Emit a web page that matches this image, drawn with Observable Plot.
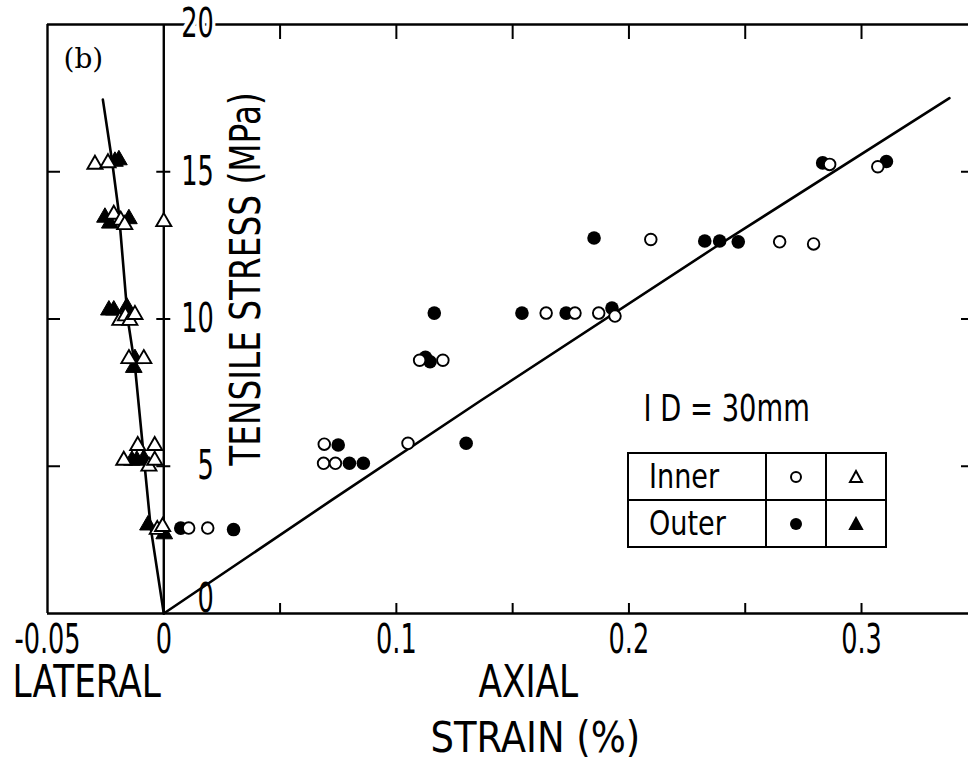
<!DOCTYPE html>
<html><head><meta charset="utf-8">
<script src="https://cdn.jsdelivr.net/npm/d3@7"></script>
<script src="https://cdn.jsdelivr.net/npm/@observablehq/plot@0.6"></script>
<style>
body{margin:0;background:#fff;}
#wrap{position:relative;width:968px;height:760px;}
#legend{position:absolute;left:627px;top:452px;border-collapse:collapse;font-family:"DejaVu Sans",sans-serif;font-size:33px;}
#legend td{border:2px solid #000;padding:0;height:45px;text-align:center;}
#legend td.lab{width:138px;text-align:left;padding-left:20px;box-sizing:border-box;}
#legend td.sym{width:58px;}
#legend span{display:inline-block;transform:scaleX(0.82);transform-origin:left center;}
</style></head><body><div id="wrap"></div>
<script>
// ---- data (strain %, stress MPa) ----
const axialInnerStrain = [0.0107,0.0189,0.069,0.0687,0.0738,0.105,0.110,0.120,0.1644,0.1768,0.187,0.194,0.2094,0.2648,0.2794,0.2863,0.307];
const axialInnerStress = [2.9,2.9,5.75,5.1,5.1,5.78,8.6,8.6,10.2,10.2,10.2,10.1,12.7,12.62,12.55,15.25,15.17];
const axialOuterStrain = [0.0073,0.030,0.075,0.0798,0.0858,0.130,0.1125,0.1145,0.1163,0.154,0.173,0.1927,0.185,0.2326,0.239,0.247,0.2833,0.3107];
const axialOuterStress = [2.9,2.85,5.72,5.1,5.1,5.78,8.7,8.55,10.2,10.2,10.2,10.37,12.75,12.65,12.65,12.62,15.3,15.35];
const lateralInnerStrain = [-0.0296,-0.024,-0.0215,-0.0185,-0.0168,0,-0.0189,-0.0165,-0.0146,-0.0124,-0.015,-0.0086,-0.0112,-0.0039,-0.0172,-0.0064,-0.0039,-0.0028,-0.0005];
const lateralInnerStress = [15.25,15.3,13.55,13.35,13.2,13.3,9.95,10.1,9.95,10.15,8.65,8.65,5.7,5.7,5.2,5.0,5.2,2.85,2.95];
const lateralOuterStrain = [-0.021,-0.0193,-0.0253,-0.0232,-0.015,-0.0236,-0.0215,-0.0159,-0.0124,-0.0129,-0.0137,-0.0116,-0.0086,-0.0068,0.0002];
const lateralOuterStress = [15.35,15.4,13.45,13.25,13.4,10.3,10.3,10.4,8.65,8.35,5.2,5.2,5.25,3.0,2.7];
const axialFitStrain = [0,0.072,0.1365,0.2365,0.3378];
const axialFitStress = [0,3.84,7.24,12.41,17.5];
const lateralFitStrain = [0,-0.0056,-0.0082,-0.0124,-0.0155,-0.0193,-0.0223,-0.0262];
const lateralFitStress = [0,2.9,5.0,8.4,10.0,13.6,15.4,17.45];
const yTickValues = [5,10,15,20];
const xTickValues = [-0.05,0,0.1,0.2,0.3];
const xTickLabels = ["-0.05","0","0.1","0.2","0.3"];
const xMinorTicks = [0.05,0.1,0.15,0.2,0.25,0.3];
const frameTicksY = [5,10,15];

const zip = (xs, ys) => xs.map((x,i)=>({x, y: ys[i]}));
const FONT = '"DejaVu Sans",sans-serif';
const SW = 2.4;
const NUM = 40, WORD = 44;

const chart = Plot.plot({
  width: 968, height: 760,
  marginLeft: 47, marginRight: 0, marginTop: 24, marginBottom: 147,
  x: {domain: [-0.05, 0.346], axis: null},
  y: {domain: [0, 20], axis: null},
  style: {fontFamily: FONT, background: "white", overflow: "visible"},
  marks: [
    // frame
    Plot.ruleY([0], {stroke: "black", strokeWidth: SW}),
    Plot.ruleY([20], {stroke: "black", strokeWidth: SW}),
    Plot.ruleX([-0.05], {y1: 0, y2: 20, stroke: "black", strokeWidth: SW}),
    Plot.ruleX([0], {y1: 0, y2: 20, stroke: "black", strokeWidth: SW}),
    // bottom & top ticks
    Plot.ruleX(xMinorTicks, {x: d=>d, y1: 0, y2: 0, insetTop: -10, stroke: "black", strokeWidth: 2}),
    Plot.ruleX(xMinorTicks, {x: d=>d, y1: 20, y2: 20, insetBottom: -15, stroke: "black", strokeWidth: 2}),
    // left frame, central axis and right ticks
    Plot.ruleY(frameTicksY, {y: d=>d, x1: -0.05, x2: -0.05, insetRight: -13, stroke: "black", strokeWidth: 2}),
    Plot.ruleY(frameTicksY, {y: d=>d, x1: 0, x2: 0, insetLeft: -7, insetRight: -7, stroke: "black", strokeWidth: 2}),
    Plot.ruleY(frameTicksY, {y: d=>d, x1: 0.346, x2: 0.346, insetLeft: -7, stroke: "black", strokeWidth: 2}),
    // fit lines
    Plot.line(zip(axialFitStrain, axialFitStress), {x: "x", y: "y", stroke: "black", strokeWidth: 2.6}),
    Plot.line(zip(lateralFitStrain, lateralFitStress), {x: "x", y: "y", stroke: "black", strokeWidth: 2.6}),
    // data
    Plot.dot(zip(axialOuterStrain, axialOuterStress), {x: "x", y: "y", r: 6.8, fill: "black", stroke: "none"}),
    Plot.dot(zip(axialInnerStrain, axialInnerStress), {x: "x", y: "y", r: 5.8, fill: "white", stroke: "black", strokeWidth: 1.9}),
    Plot.dot(zip(lateralOuterStrain, lateralOuterStress), {x: "x", y: "y", symbol: "triangle", r: 6.2, fill: "black", stroke: "black", strokeWidth: 1}),
    Plot.dot(zip(lateralInnerStrain, lateralInnerStress), {x: "x", y: "y", symbol: "triangle", r: 5.6, fill: "white", stroke: "black", strokeWidth: 1.9}),
    // y tick labels
    Plot.text(yTickValues, {x: 0, y: d=>d, text: d=>String(d), dx: 50, textAnchor: "end", lineAnchor: "middle", fontSize: NUM, fill: "black", stroke: "white", strokeWidth: 10}),
    Plot.text([0], {x: 0, y: d=>d, text: d=>String(d), dx: 50, dy: -14, textAnchor: "end", lineAnchor: "middle", fontSize: NUM, fill: "black"}),
    // x tick labels
    Plot.text(xTickValues, {x: d=>d, y: 0, text: (d,i)=>xTickLabels[i], dy: 27, lineAnchor: "middle", fontSize: NUM, fill: "black"}),
    // axis titles & annotations
    Plot.text(["TENSILE STRESS (MPa)"], {frameAnchor: "left", dx: 199, dy: -40, rotate: -90, textAnchor: "middle", lineAnchor: "middle", fontSize: 42, fill: "black"}),
    Plot.text(["LATERAL"], {frameAnchor: "bottom-left", dx: -35, dy: 69, textAnchor: "start", lineAnchor: "middle", fontSize: WORD, fill: "black"}),
    Plot.text(["AXIAL"], {frameAnchor: "bottom-left", dx: 431, dy: 69, textAnchor: "start", lineAnchor: "middle", fontSize: WORD, fill: "black"}),
    Plot.text(["STRAIN (%)"], {frameAnchor: "bottom-left", dx: 383, dy: 125, textAnchor: "start", lineAnchor: "middle", fontSize: 42, fill: "black"}),
    Plot.text(["(b)"], {frameAnchor: "top-left", dx: 16, dy: 35, textAnchor: "start", lineAnchor: "middle", fontSize: 28, fontFamily: '"DejaVu Serif","Liberation Serif",serif', fill: "black"}),
    Plot.text(["I D = 30mm"], {frameAnchor: "top-left", dx: 596, dy: 384, textAnchor: "start", lineAnchor: "middle", fontSize: 38, fill: "black"})
  ]
});
document.getElementById("wrap").appendChild(chart);

// condense the lettering to imitate the narrow plotter font
const squeeze = {"STRAIN (%)": 0.88, "I D = 30mm": 0.72};
chart.querySelectorAll("text").forEach(t => {
  const s = t.textContent;
  if (s === "(b)") return;
  const f = squeeze[s] ?? (/^[-\d.]+$/.test(s) ? 0.64 : 0.78);
  const w = t.getComputedTextLength();
  t.setAttribute("textLength", (w * f).toFixed(1));
  t.setAttribute("lengthAdjust", "spacingAndGlyphs");
});

const legend = document.createElement("table");
legend.id = "legend";
const sym = (shape, filled) => {
  const f = filled ? "#000" : "#fff";
  const inner = shape === "circle"
    ? `<circle cx="8" cy="8" r="${filled?6:5}" fill="${f}" stroke="#000" stroke-width="${filled?0:2}"/>`
    : `<path d="M8,2 L14,13 L2,13 Z" fill="${f}" stroke="#000" stroke-width="2" stroke-linejoin="miter"/>`;
  return `<svg width="16" height="16" style="display:block;margin:auto">${inner}</svg>`;
};
legend.innerHTML = `<tr><td class="lab"><span>Inner</span></td><td class="sym">${sym("circle",false)}</td><td class="sym">${sym("tri",false)}</td></tr>
<tr><td class="lab"><span>Outer</span></td><td class="sym">${sym("circle",true)}</td><td class="sym">${sym("tri",true)}</td></tr>`;
document.getElementById("wrap").appendChild(legend);
</script></body></html>
